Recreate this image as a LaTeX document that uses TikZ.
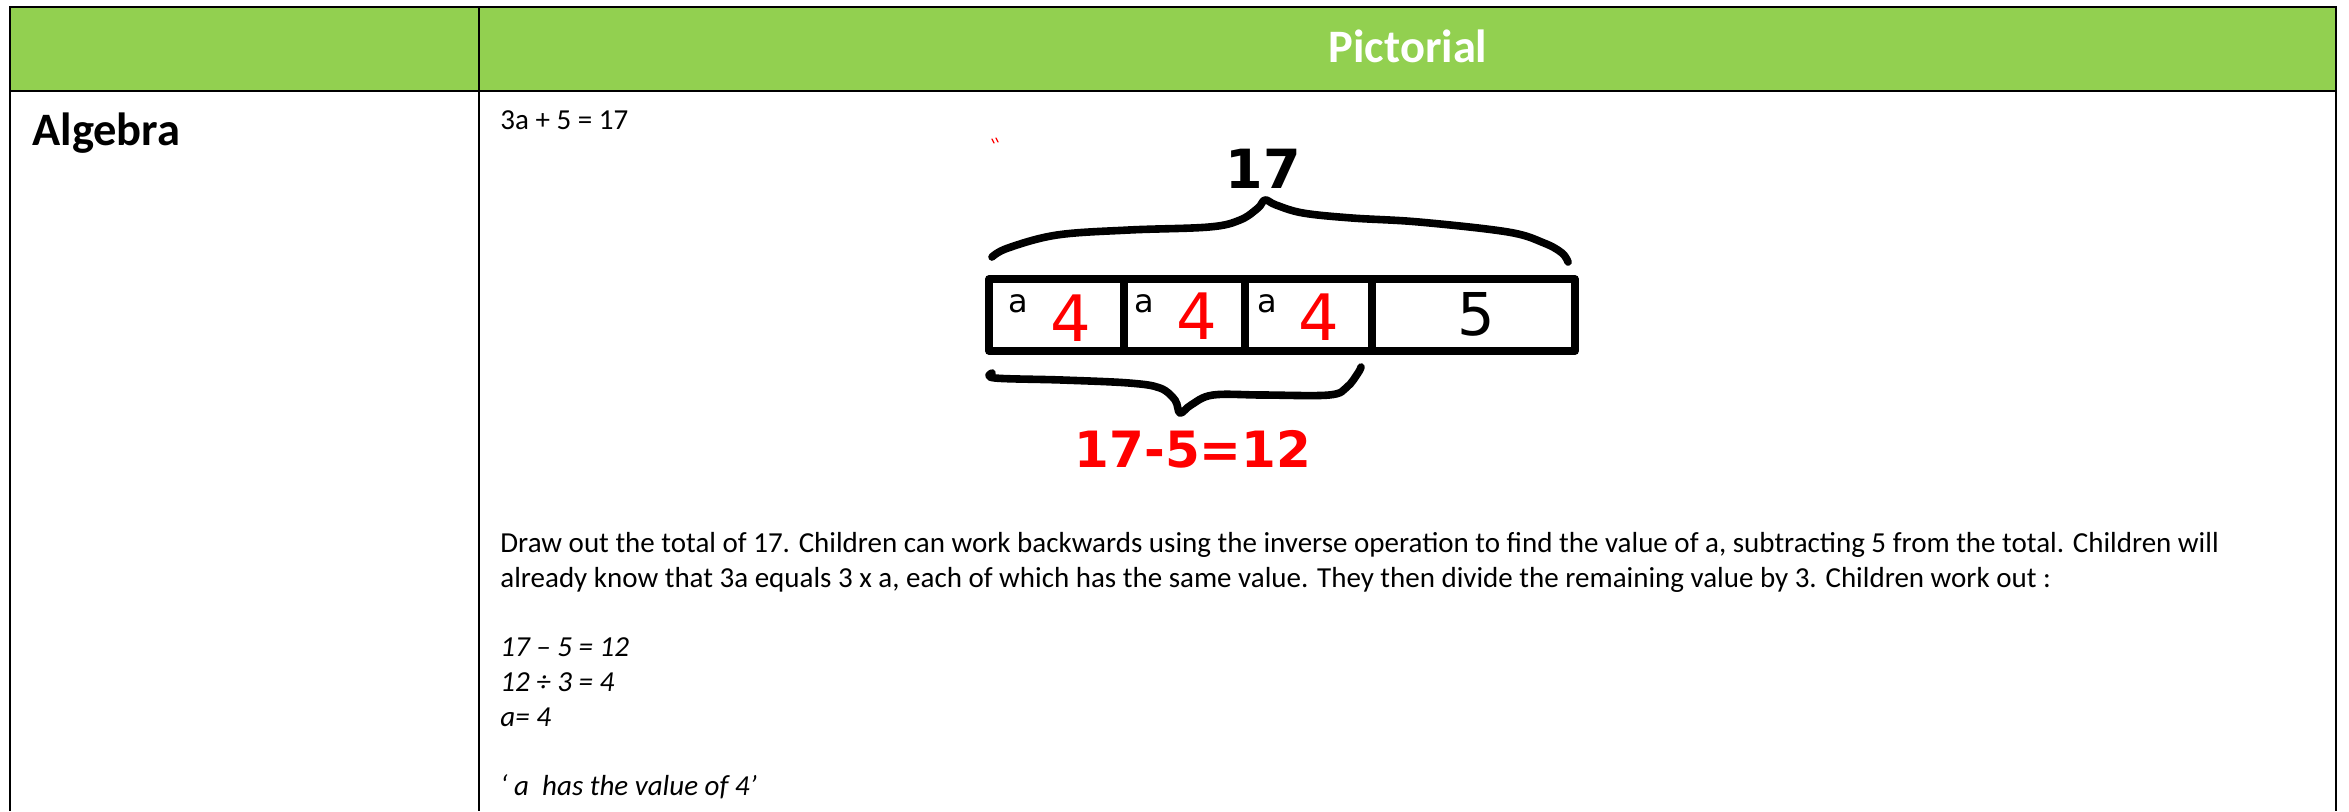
\documentclass[tikz,border=0pt]{standalone}
\usepackage{fontspec}
\setmainfont{Carlito}
\newfontfamily\handfont{DejaVu Sans}
\definecolor{hdrgreen}{HTML}{92D050}
\definecolor{handred}{HTML}{FF0000}
\begin{document}
\begin{tikzpicture}[x=0.5pt,y=-0.5pt,
  txt/.style={inner sep=0pt, anchor=base west, font=\fontsize{14.5}{17}\selectfont},
  itxt/.style={inner sep=0pt, anchor=base west, font=\fontsize{14.5}{17}\selectfont\itshape},
  head/.style={inner sep=0pt, font=\fontsize{23.25}{27}\selectfont\bfseries},
  gridline/.style={line width=1.4pt, black},
  hand/.style={line width=3.8pt, line cap=round, line join=round, black},
  handtxt/.style={inner sep=0pt, anchor=base, font=\handfont\fontsize{32}{36}\selectfont},
  smalla/.style={inner sep=0pt, anchor=base west, font=\handfont\fontsize{16}{18}\selectfont},
]
\useasboundingbox (0,0) rectangle (2349,811);
% table
\fill[hdrgreen] (10,7) rectangle (2336,91);
\draw[gridline] (10,811) -- (10,7) -- (2336,7) -- (2336,811);
\draw[gridline] (10,91) -- (2336,91);
\draw[gridline] (479,7) -- (479,811);
% headers
\node[head, text=white, anchor=base] (pict) at (1408,62) {Pictorial};
\node[head, anchor=base west] (alg) at (32,145) {Algebra};
% texts
\node[txt] (eq) at (500,129) {3a + 5 = 17};
\node[txt] (l1) at (500,552) {Draw out the total of 17. Children can work backwards using the inverse operation to find the value of a, subtracting 5 from the total. Children will};
\node[txt] (l2) at (500,587) {already know that 3a equals 3 x a, each of which has the same value. They then divide the remaining value by 3. Children work out :};
\node[itxt] (l3) at (500,656) {17 – 5 = 12};
\node[itxt] (l4) at (500,691) {12 ÷ 3 = 4};
\node[itxt] (l5) at (500,726) {a= 4};
\node[itxt] (l6) at (500,795) {‘ a\ \ has the value of 4’};
% red speck
\draw[handred, line width=0.6pt, line cap=round] (992,139) -- (994,143);
\draw[handred, line width=0.6pt, line cap=round] (996,138) -- (998,142);
% top number
\node[handtxt, font=\handfont\bfseries\fontsize{27}{30}\selectfont] (top17) at (1263,188) {17};
% top brace
\draw[hand] plot[smooth, tension=0.6] coordinates {(992,257) (1008,248) (1057,235) (1129,230) (1209,227) (1240,220) (1258,208) (1265,200) (1276,205) (1303,213) (1352,218) (1419,222) (1508,232) (1544,243) (1562,253) (1568,262)};
% bar
\draw[hand] (989,279) rectangle (1575,351);
\draw[hand] (1124,279) -- (1124,351);
\draw[hand] (1245,279) -- (1245,351);
\draw[hand] (1372,279) -- (1372,351);
% cell contents
\node[smalla] (a1) at (1008,312) {a};
\node[smalla] (a2) at (1134,312) {a};
\node[smalla] (a3) at (1257,312) {a};
\node[handtxt, text=handred] (f1) at (1071,341) {4};
\node[handtxt, text=handred] (f2) at (1197,339) {4};
\node[handtxt, text=handred] (f3) at (1319,340) {4};
\node[handtxt, font=\handfont\fontsize{29.5}{32}\selectfont] (five) at (1476,335) {5};
% bottom brace
\draw[hand] plot[smooth, tension=0.6] coordinates {(992,373) (995,378) (1062,380) (1129,383) (1160,388) (1175,400) (1180,413) (1191,405) (1213,395) (1263,395) (1329,395) (1347,387) (1358,373) (1361,367)};
% result
\node[inner sep=0pt, anchor=base, text=handred, font=\handfont\bfseries\fontsize{25}{28}\selectfont] (res) at (1193,467) {17-5=12};
\end{tikzpicture}
\end{document}
